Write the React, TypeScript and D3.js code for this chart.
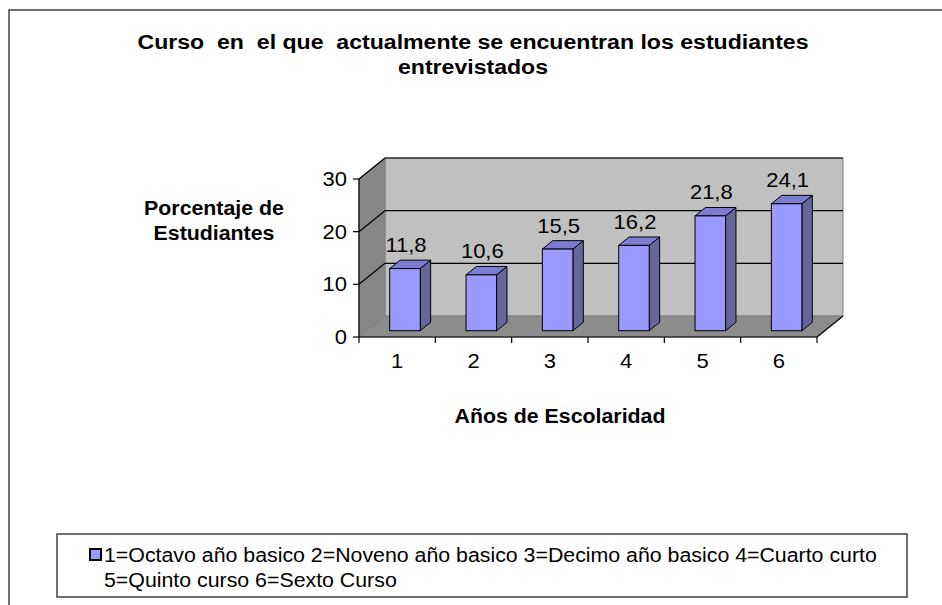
import React from "react";
import * as d3 from "d3";

const categories = ["1", "2", "3", "4", "5", "6"];
const values = [11.8, 10.6, 15.5, 16.2, 21.8, 24.1];
const valueLabels = ["11,8", "10,6", "15,5", "16,2", "21,8", "24,1"];
const yTicks = [0, 10, 20, 30];
const titleLines = ["Curso  en  el que  actualmente se encuentran los estudiantes", "entrevistados"];
const yTitleLines = ["Porcentaje de", "Estudiantes"];
const xTitle = "Años de Escolaridad";
const legendLines = [
  "1=Octavo año basico 2=Noveno año basico 3=Decimo año basico 4=Cuarto curto",
  "5=Quinto curso 6=Sexto Curso",
];

const W = 942;
const H = 605;
const FONT = "'Liberation Sans', Arial, sans-serif";
const SX = 1.1;

const DX = 26;
const DY = -21;

function T({ x, y, anchor = "middle", bold = false, size = 19, children }: any) {
  return (
    <text
      transform={`translate(${x},${y}) scale(${SX},1)`}
      textAnchor={anchor}
      fontFamily={FONT}
      fontWeight={bold ? "bold" : "normal"}
      fontSize={size}
      fill="#000"
      style={{ whiteSpace: "pre" }}
    >
      {children}
    </text>
  );
}

export default function App() {
  const x = d3.scaleBand<string>().domain(categories).range([359, 817]).padding(0);
  const y = d3.scaleLinear().domain([0, 30]).range([337, 179]);
  const x0 = x.range()[0];
  const x1 = x.range()[1];
  const y0 = y(0);
  const yTop = y(30);
  const bw = x.bandwidth() / 2.5;
  const f0 = 0.3;
  const f1 = 0.7;

  const pts = (arr: number[][]) => arr.map((p) => p.join(",")).join(" ");

  return (
    <svg width={W} height={H} style={{ position: "absolute", left: 0, top: 0 }}>
      <rect x={0} y={0} width={W} height={H} fill="#fff" />
      <rect x={9} y={10} width={W} height={H} fill="#fff" stroke="#111" strokeWidth={1.2} />

      {titleLines.map((t, i) => (
        <T key={i} x={473} y={49 + i * 25} bold size={21}>
          {t}
        </T>
      ))}

      {/* back wall */}
      <polygon
        points={pts([
          [x0 + DX, y0 + DY],
          [x1 + DX, y0 + DY],
          [x1 + DX, yTop + DY],
          [x0 + DX, yTop + DY],
        ])}
        fill="#c0c0c0"
        stroke="#808080"
        strokeWidth={1}
      />
      {/* side wall */}
      <polygon
        points={pts([
          [x0, y0],
          [x0 + DX, y0 + DY],
          [x0 + DX, yTop + DY],
          [x0, yTop],
        ])}
        fill="#878787"
        stroke="#808080"
        strokeWidth={1}
      />
      {/* floor */}
      <polygon
        points={pts([
          [x0, y0],
          [x1, y0],
          [x1 + DX, y0 + DY],
          [x0 + DX, y0 + DY],
        ])}
        fill="#8c8c8c"
        stroke="#808080"
        strokeWidth={1}
      />
      {/* gridlines */}
      {yTicks.filter((t) => t > 0).map((t) => (
        <g key={t}>
          <line x1={x0} y1={y(t)} x2={x0 + DX} y2={y(t) + DY} stroke="#000" strokeWidth={1.2} />
          <line x1={x0 + DX} y1={y(t) + DY} x2={x1 + DX} y2={y(t) + DY} stroke="#000" strokeWidth={1.2} />
        </g>
      ))}
      {/* floor right edge */}
      <line x1={x1} y1={y0} x2={x1 + DX} y2={y0 + DY} stroke="#000" strokeWidth={1.2} />

      {/* bars */}
      {values.map((v, i) => {
        const cx = (x(categories[i]) as number) + x.bandwidth() / 2;
        const bx0 = cx - bw / 2 + DX * f0;
        const bx1 = cx + bw / 2 + DX * f0;
        const yb = y0 + DY * f0;
        const yt = y(v) + DY * f0;
        const ddx = DX * (f1 - f0);
        const ddy = DY * (f1 - f0);
        return (
          <g key={i}>
            <polygon
              points={pts([
                [bx1, yb],
                [bx1 + ddx, yb + ddy],
                [bx1 + ddx, yt + ddy],
                [bx1, yt],
              ])}
              fill="#666699"
              stroke="#000"
              strokeWidth={1}
              strokeLinejoin="round"
            />
            <polygon
              points={pts([
                [bx0, yt],
                [bx1, yt],
                [bx1 + ddx, yt + ddy],
                [bx0 + ddx, yt + ddy],
              ])}
              fill="#7c7cd0"
              stroke="#000"
              strokeWidth={1}
              strokeLinejoin="round"
            />
            <rect x={bx0} y={yt} width={bx1 - bx0} height={yb - yt} fill="#9999ff" stroke="#000" strokeWidth={1} />
            <T x={(bx0 + bx1) / 2 + 1} y={yt + ddy - 8} size={20}>
              {valueLabels[i]}
            </T>
          </g>
        );
      })}

      {/* axes */}
      <line x1={x0} y1={y0} x2={x0} y2={yTop} stroke="#000" strokeWidth={1.2} />
      <line x1={x0} y1={y0} x2={x1} y2={y0} stroke="#000" strokeWidth={1.2} />
      {yTicks.map((t) => (
        <g key={t}>
          <line x1={x0 - 6} y1={y(t)} x2={x0} y2={y(t)} stroke="#000" strokeWidth={1.2} />
          <T x={x0 - 12} y={y(t) + 7} anchor="end" size={20}>
            {String(t)}
          </T>
        </g>
      ))}
      {categories.map((c, i) => (
        <line key={"t" + i} x1={x(c) as number} y1={y0} x2={x(c) as number} y2={y0 + 6} stroke="#000" strokeWidth={1.2} />
      ))}
      <line x1={x1} y1={y0} x2={x1} y2={y0 + 6} stroke="#000" strokeWidth={1.2} />
      {categories.map((c) => (
        <T key={"l" + c} x={(x(c) as number) + x.bandwidth() / 2} y={368} size={20}>
          {c}
        </T>
      ))}

      {yTitleLines.map((t, i) => (
        <T key={"yt" + i} x={214} y={215 + i * 25} bold size={19.4}>
          {t}
        </T>
      ))}
      <T x={560} y={423} bold size={19.4}>
        {xTitle}
      </T>

      {/* legend */}
      <rect x={57} y={534} width={850} height={63} fill="#fff" stroke="#111" strokeWidth={1.2} />
      <rect x={90} y={549} width={11} height={11} fill="#9999ff" stroke="#000" strokeWidth={2} />
      {legendLines.map((t, i) => (
        <T key={"lg" + i} x={104} y={561.5 + i * 25} anchor="start" size={19.4}>
          {t}
        </T>
      ))}
    </svg>
  );
}
